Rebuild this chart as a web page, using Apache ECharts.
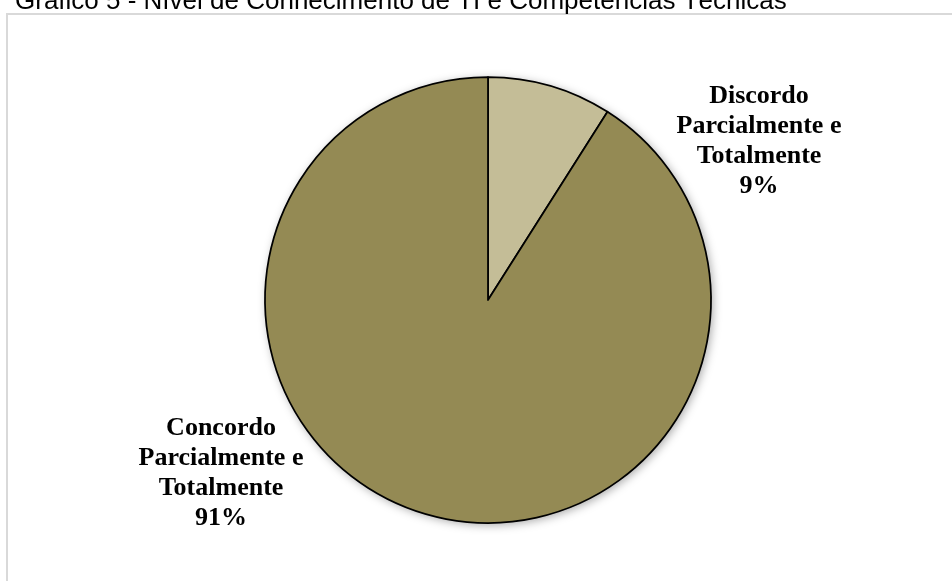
<!DOCTYPE html>
<html>
<head>
<meta charset="utf-8">
<script src="https://cdn.jsdelivr.net/npm/echarts@6/dist/echarts.min.js"></script>
<style>
  html, body { margin: 0; padding: 0; background: #fff; }
  #chart { width: 952px; height: 581px; }
</style>
</head>
<body>
<div id="chart"></div>
<script>
const titleText = 'Gráfico 5 - Nível de Conhecimento de TI e Competências Técnicas';
const categories = ['Discordo\nParcialmente e\nTotalmente', 'Concordo\nParcialmente e\nTotalmente'];
const values = [9, 91];
const sliceColors = ['#C4BD97', '#948A54'];
// where Excel put each data label (centre of the text block)
const labelSpots = [[759, 141], [221, 473]];

const chart = echarts.init(document.getElementById('chart'));

const pieData = categories.map((name, i) => ({
  name: name,
  value: values[i],
  itemStyle: { color: sliceColors[i] },
}));

const total = values.reduce((a, b) => a + b, 0);

const option = {
  animation: false,
  graphic: [
    {
      type: 'rect',
      shape: { x: 7, y: 14, width: 1000, height: 700 },
      style: { fill: 'none', stroke: '#d9d9d9', lineWidth: 2 },
      z: 0,
    },
    {
      type: 'text',
      x: 15,
      y: 15,
      style: {
        text: titleText,
        font: '26px "Liberation Sans", Arial, sans-serif',
        fill: '#000',
        textVerticalAlign: 'bottom',
      },
      z: 10,
    },
  ],
  series: [
    {
      // soft drop shadow under the whole pie
      type: 'pie',
      silent: true,
      center: [488, 300],
      radius: 223,
      z: 1,
      label: { show: false },
      labelLine: { show: false },
      data: [{ value: total }],
      itemStyle: {
        color: '#fff',
        shadowBlur: 10,
        shadowOffsetX: 2,
        shadowOffsetY: 2,
        shadowColor: 'rgba(0,0,0,0.35)',
      },
    },
    {
      type: 'pie',
      center: [488, 300],
      radius: 223,
      startAngle: 90,
      clockwise: true,
      z: 2,
      itemStyle: {
        borderColor: '#000',
        borderWidth: 1.75,
      },
      label: {
        show: true,
        position: 'outside',
        formatter: (p) => p.name + '\n' + p.percent.toFixed(0) + '%',
        fontFamily: '"Liberation Serif", "Times New Roman", serif',
        fontWeight: 'bold',
        fontSize: 26,
        lineHeight: 30,
        color: '#000',
        align: 'center',
      },
      labelLine: { show: false },
      labelLayout: (params) => ({
        x: labelSpots[params.dataIndex][0],
        y: labelSpots[params.dataIndex][1],
        align: 'center',
        verticalAlign: 'middle',
      }),
      data: pieData,
    },
  ],
};

chart.setOption(option);
</script>
</body>
</html>
